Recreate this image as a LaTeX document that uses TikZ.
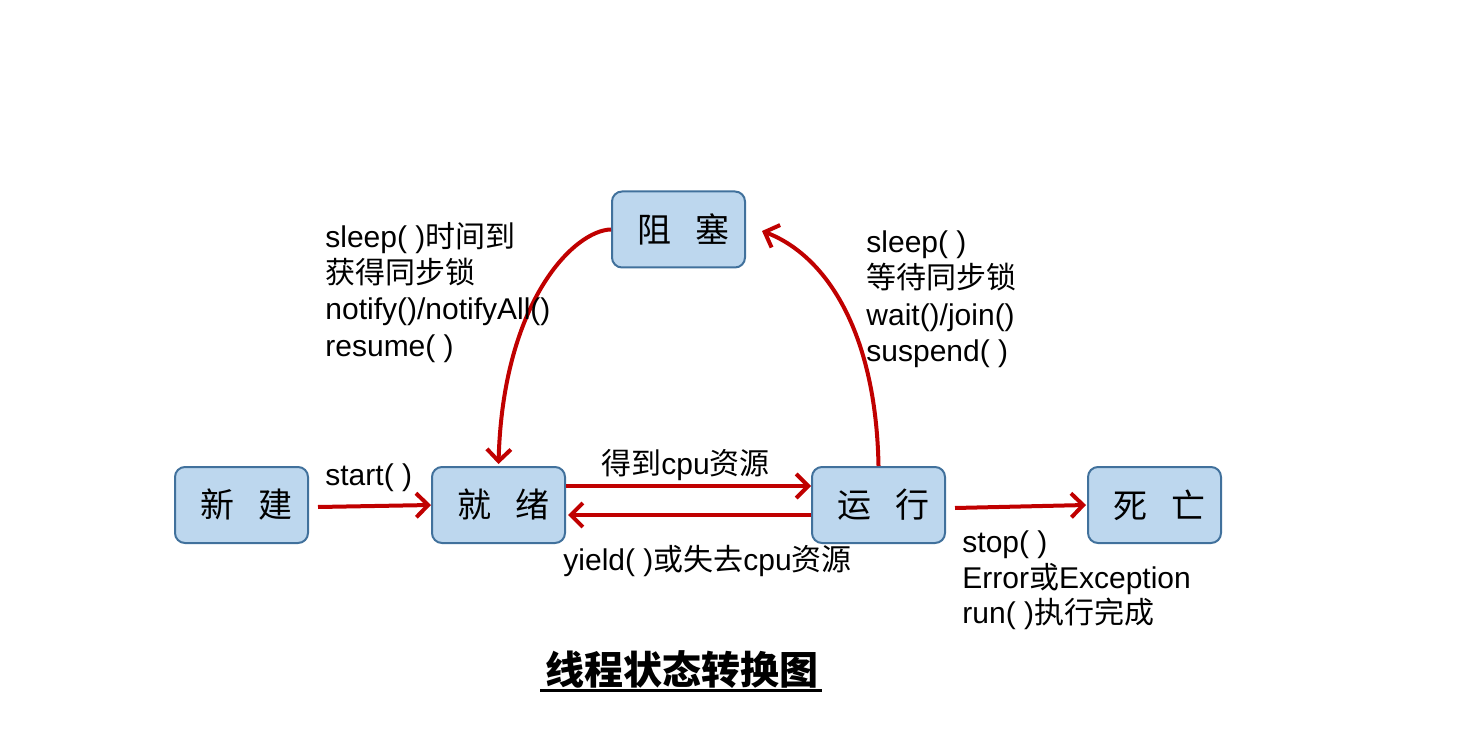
\documentclass[tikz,border=0pt]{standalone}
\usepackage{fontspec}
\setmainfont{Liberation Sans}
\newfontfamily\cjk{Noto Sans CJK SC}
\usetikzlibrary{arrows.meta}
\definecolor{boxfill}{HTML}{BDD7EE}
\definecolor{boxline}{HTML}{41719C}
\definecolor{arr}{HTML}{C00000}
\begin{document}
\begin{tikzpicture}[x=0.5pt,y=-0.5pt,
  state/.style={draw=boxline, line width=1pt, fill=boxfill, rounded corners=5pt,
    minimum width=66.5pt, minimum height=38pt, inner sep=0pt,
    font=\cjk\fontsize{17}{17}\selectfont},
  conn/.style={draw=arr, line width=2pt, -{Straight Barb[length=6pt,width=12pt]}},
  lbl/.style={inner sep=0pt, anchor=base west, font=\fontsize{15}{18}\selectfont}]
\useasboundingbox (0,0) rectangle (1475,753);
\node[state] (new) at (241.5,505) {\hspace{5pt}新\hspace{12pt}建};
\node[state] (ready) at (498.5,505) {\hspace{5pt}就\hspace{12pt}绪};
\node[state] (run) at (878.5,505) {\hspace{5pt}运\hspace{12pt}行};
\node[state] (dead) at (1154.5,505) {\hspace{5pt}死\hspace{12pt}亡};
\node[state] (block) at (678.5,229.5) {\hspace{5pt}阻\hspace{12pt}塞};
% connectors
\coordinate (s0) at (318,507);
\draw[conn] (s0) -- (ready.west);
\draw[conn] (ready.east |- 0,486) -- (run.west |- 0,486);
\draw[conn] (run.west |- 0,515) -- ([xshift=1pt]ready.east |- 0,515);
\coordinate (d0) at (955,508);
\draw[conn] (d0) -- ([xshift=-0.5pt]dead.west);
\coordinate (bt) at (762,231);
\draw[conn] (run.north) .. controls (876,330) and (825,255) .. (bt);
\draw[conn] (block.west) .. controls (575,230) and (503,300) .. ([yshift=1pt]ready.north);
% labels
\node[lbl] (l1) at (325,248) {sleep( )\cjk 时间到};
\node[lbl] (l2) at (325,284) {\cjk 获得同步锁};
\node[lbl] (l3) at (325,320) {notify()/notifyAll()};
\node[lbl] (l4) at (325,356) {resume( )};
\node[lbl] (r1) at (866,253) {sleep( )};
\node[lbl] (r2) at (866,289) {\cjk 等待同步锁};
\node[lbl] (r3) at (866,325) {wait()/join()};
\node[lbl] (r4) at (866,361) {suspend( )};
\node[lbl] (st) at (325,485) {start( )};
\node[lbl] (gc) at (601,474) {{\cjk 得到}cpu{\cjk 资源}};
\node[lbl] (yl) at (563,570) {yield( ){\cjk 或失去}cpu{\cjk 资源}};
\node[lbl] (k1) at (962,552) {stop( )};
\node[lbl] (k2) at (962,588) {Error{\cjk 或}Exception};
\node[lbl] (k3) at (962,623) {run( ){\cjk 执行完成}};
\node[inner sep=0pt, anchor=base, font=\cjk\bfseries\fontsize{19.5}{19.5}\selectfont] (title) at (682,684) {线程状态转换图};
\draw[line width=1.5pt] (540,690) -- (822,690);
\end{tikzpicture}
\end{document}
